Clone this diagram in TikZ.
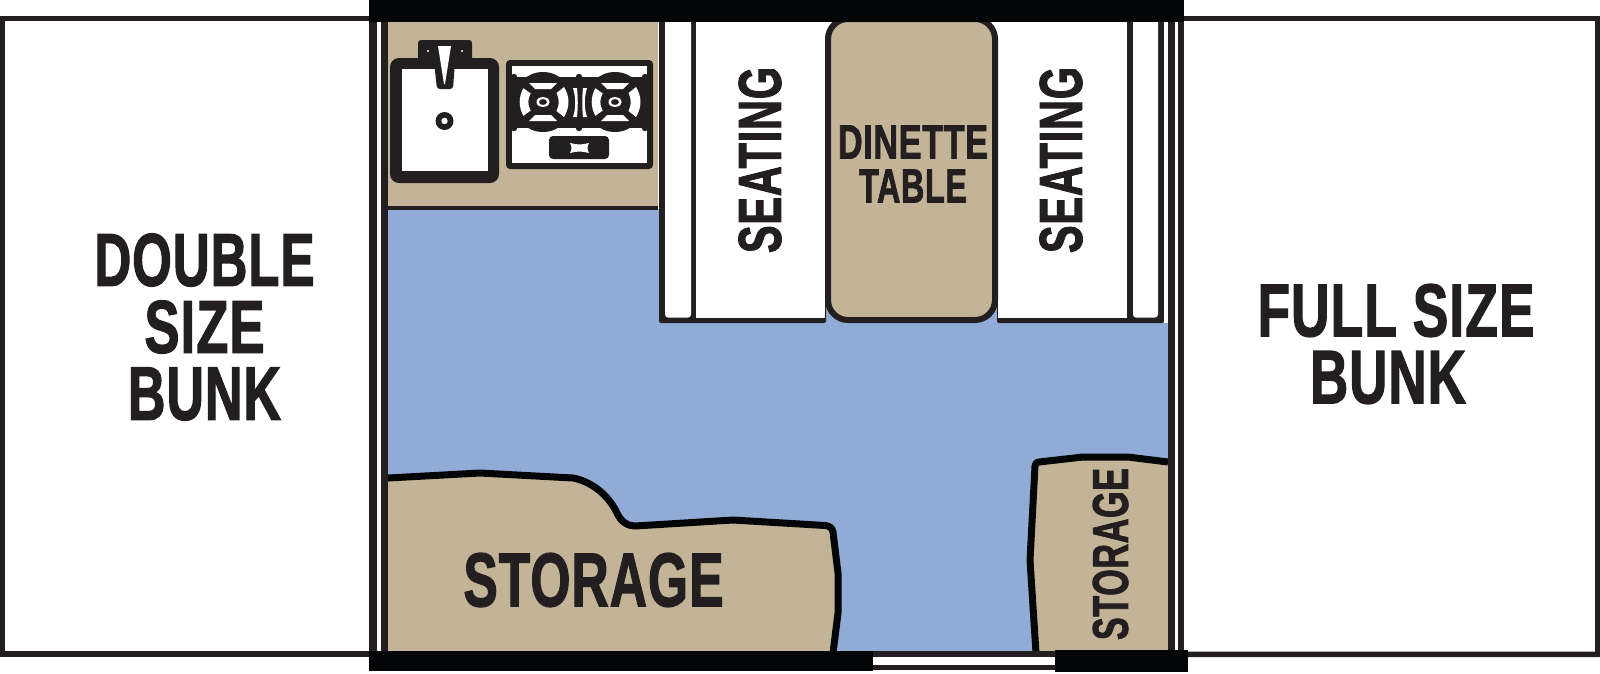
\documentclass[tikz,border=0pt]{standalone}
\usepackage{fontspec}
\usepackage{graphicx}
\setmainfont{Liberation Sans}
\newfontfamily\labfont[UprightFont=* Bold,FakeBold=2,LetterSpace=2]{Liberation Sans}
\definecolor{ink}{HTML}{231F20}
\definecolor{jet}{HTML}{030506}
\definecolor{tan}{HTML}{C3B498}
\definecolor{floorblue}{HTML}{90ACD6}
\newcommand{\fitw}[3]{\resizebox{#1pt}{#2pt}{\labfont #3}}
\newcommand{\burner}[2]{%
 \begin{scope}[shift={(#1,#2)}]
  \fill[ink] (-30,0) .. controls (-30,-16.5) and (-16.5,-30) .. (0,-30) .. controls (16.5,-30) and (30,-16.5) .. (30,0) .. controls (30,16.5) and (16.5,30) .. (0,30) .. controls (-16.5,30) and (-30,16.5) .. (-30,0) -- cycle;
  \fill[white] (-12.3,-8.6) .. controls (-15.5,-3) and (-15.5,3) .. (-12.3,8.6) -- (-19.7,13.8) .. controls (-24.5,5) and (-24.5,-5) .. (-19.7,-13.8) -- cycle;
  \fill[white] (13.5,-9) .. controls (16.5,-3) and (16.5,3) .. (13.5,9) -- (21,15) .. controls (27,5) and (27,-5) .. (21,-15) -- cycle;
  \fill[white] (-14,-19) -- (14,-19) -- (8,-13) -- (-8,-13) -- cycle;
  \fill[white] (-14,19) -- (14,19) -- (8,13) -- (-8,13) -- cycle;
  \fill[white] (-6.5,0) .. controls (-6.5,-6.5) and (6.5,-6.5) .. (6.5,0) .. controls (6.5,6.5) and (-6.5,6.5) .. (-6.5,0) -- cycle;
  \fill[ink] (-4,0) .. controls (-4,-3.8) and (4,-3.8) .. (4,0) .. controls (4,3.8) and (-4,3.8) .. (-4,0) -- cycle;
 \end{scope}}
\tikzset{
 storageline/.style={draw=jet,line width=7pt,line join=round},
 storagefill/.style={fill=tan},
 biglabel/.style={text=ink,inner sep=0pt,align=center,font=\fontsize{10}{67}\selectfont},
 smalllabel/.style={text=ink,inner sep=0pt,align=center,font=\fontsize{10}{44}\selectfont},
}
\begin{document}
\begin{tikzpicture}[x=1pt,y=-1pt]
\useasboundingbox (0,0) rectangle (1600,673);
\fill[white] (0,0) rectangle (1600,673);
% floor
\fill[floorblue] (388,209) rectangle (1168,651);
% galley counter
\fill[tan] (388,21) rectangle (658,206);
\fill[ink] (388,206) rectangle (658,209.5);
% sink
\fill[ink,rounded corners=3pt] (418,40) rectangle (472,62);
\fill[ink,rounded corners=9pt] (390,58) rectangle (499,183);
\fill[white] (402,69) rectangle (488,171);
\fill[ink,rounded corners=3pt] (434,62) -- (437,89) -- (453,89) -- (455,62) -- cycle;
\fill[white] (438,46) -- (451,46) -- (445,84) -- (444,84) -- cycle;
\fill[white] (428,51) circle (1.2);
\fill[white] (462,51) circle (1.2);
\fill[ink] (444.5,121) circle (9);
\fill[white] (444.5,121) circle (3.2);
% stove
\fill[ink,rounded corners=4pt] (506,60) rectangle (653,169);
\fill[white] (512,66) rectangle (647,163);
\fill[ink] (512,77) rectangle (647,128);
\foreach \px in {514,579,645}{
 \fill[ink] (\px,77) circle (3.2);
 \fill[ink] (\px,128) circle (3.2);
}
\burner{543}{102}
\burner{615}{102}
\fill[white] (573,88) .. controls (576,98) and (576,108) .. (573,117) -- (577,117) .. controls (578,108) and (578,98) .. (577,88) -- cycle;
\fill[white] (587,88) .. controls (584,98) and (584,108) .. (587,117) -- (583,117) .. controls (582,108) and (582,98) .. (583,88) -- cycle;
\fill[ink,rounded corners=4pt] (549,136) rectangle (609,159);
\fill[white] (570,143) .. controls (579,145) and (580,145) .. (589,143) .. controls (587,147) and (587,149) .. (589,153) .. controls (580,151) and (579,151) .. (570,153) .. controls (572,149) and (572,147) .. (570,143) -- cycle;
% left seating
\fill[ink,rounded corners=2pt] (659,10) rectangle (826,323);
\fill[white,rounded corners=3pt] (665,10) rectangle (691,317.5);
\fill[white] (696,10) rectangle (825,317.5);
% right seating
\fill[ink,rounded corners=2pt] (997,10) rectangle (1164,323);
\fill[white] (998,10) rectangle (1127,317.5);
\fill[white,rounded corners=3pt] (1133,10) rectangle (1158,317.5);
\fill[white] (1164,21) rectangle (1168,323);
% dinette table
\fill[white] (825,15) rectangle (998,45);
\fill[tan,draw=ink,line width=6pt,rounded corners=20pt] (828,19) rectangle (995,320);
% storage
\fill[storagefill] (388,478) -- (480,473) -- (573,478) .. controls (590,481) and (608,494) .. (617,513) .. controls (621,522) and (628,526) .. (635,526) -- (733,520) -- (825,525.5) .. controls (830,526) and (832,528) .. (833,532) -- (838,573) -- (838,613) -- (833,653) -- (388,653) -- cycle;
\draw[storageline] (388,478) -- (480,473) -- (573,478) .. controls (590,481) and (608,494) .. (617,513) .. controls (621,522) and (628,526) .. (635,526) -- (733,520) -- (825,525.5) .. controls (830,526) and (832,528) .. (833,532) -- (838,573) -- (838,613) -- (833,653);
\fill[storagefill] (1036,653) -- (1030,560) -- (1035,466) .. controls (1035,463) and (1037,462) .. (1039,462) -- (1083,457) -- (1128,457) -- (1168,462) -- (1168,653) -- cycle;
\draw[storageline] (1036,653) -- (1030,560) -- (1035,466) .. controls (1035,463) and (1037,462) .. (1039,462) -- (1083,457) -- (1128,457) -- (1168,462);
% walls
\fill[ink] (369,16) rectangle (377,651);
\fill[ink] (381,21) rectangle (388,651);
\fill[ink] (1168,21) rectangle (1175,651);
\fill[ink] (1178,16) rectangle (1184,657);
% bunks
\fill[ink] (0,16) rectangle (369,21);
\fill[ink] (0,651) rectangle (369,657);
\fill[ink] (0,16) rectangle (5,657);
\fill[ink] (1184,16) rectangle (1600,21);
\fill[ink,rounded corners=1pt] (1168,651.5) rectangle (1600,657);
\fill[ink] (1595,16) rectangle (1600,657);
% bars
\fill[jet] (369,0) rectangle (1184,21.5);
\fill[jet] (369,651) rectangle (873,671);
\fill[ink] (873,651) rectangle (1055,657);
\fill[ink] (873,665) rectangle (1055,670);
\fill[jet] (1055,650) rectangle (1188,672);
% labels
\node[biglabel] (bunkleft) at (204.5,327) {\fitw{220}{52}{DOUBLE}\\\fitw{120}{52}{SIZE}\\\fitw{153}{52}{BUNK}};
\node[biglabel] (bunkright) at (1396,344) {\fitw{277}{52}{FULL SIZE}\\\fitw{156}{52}{BUNK}\hspace*{16pt}};
\node[smalllabel] (table) at (913,164) {\fitw{150}{33}{DINETTE}\\\fitw{108}{33}{TABLE}};
\node[text=ink,inner sep=0pt,rotate=90] (seatleft) at (760,160) {\fitw{186}{42}{SEATING}};
\node[text=ink,inner sep=0pt,rotate=90] (seatright) at (1061,160) {\fitw{186}{42}{SEATING}};
\node[text=ink,inner sep=0pt] (storeleft) at (593.5,580) {\fitw{260}{53}{STORAGE}};
\node[text=ink,inner sep=0pt,rotate=90] (storeright) at (1110.5,554) {\fitw{172}{35}{STORAGE}};
\end{tikzpicture}
\end{document}
